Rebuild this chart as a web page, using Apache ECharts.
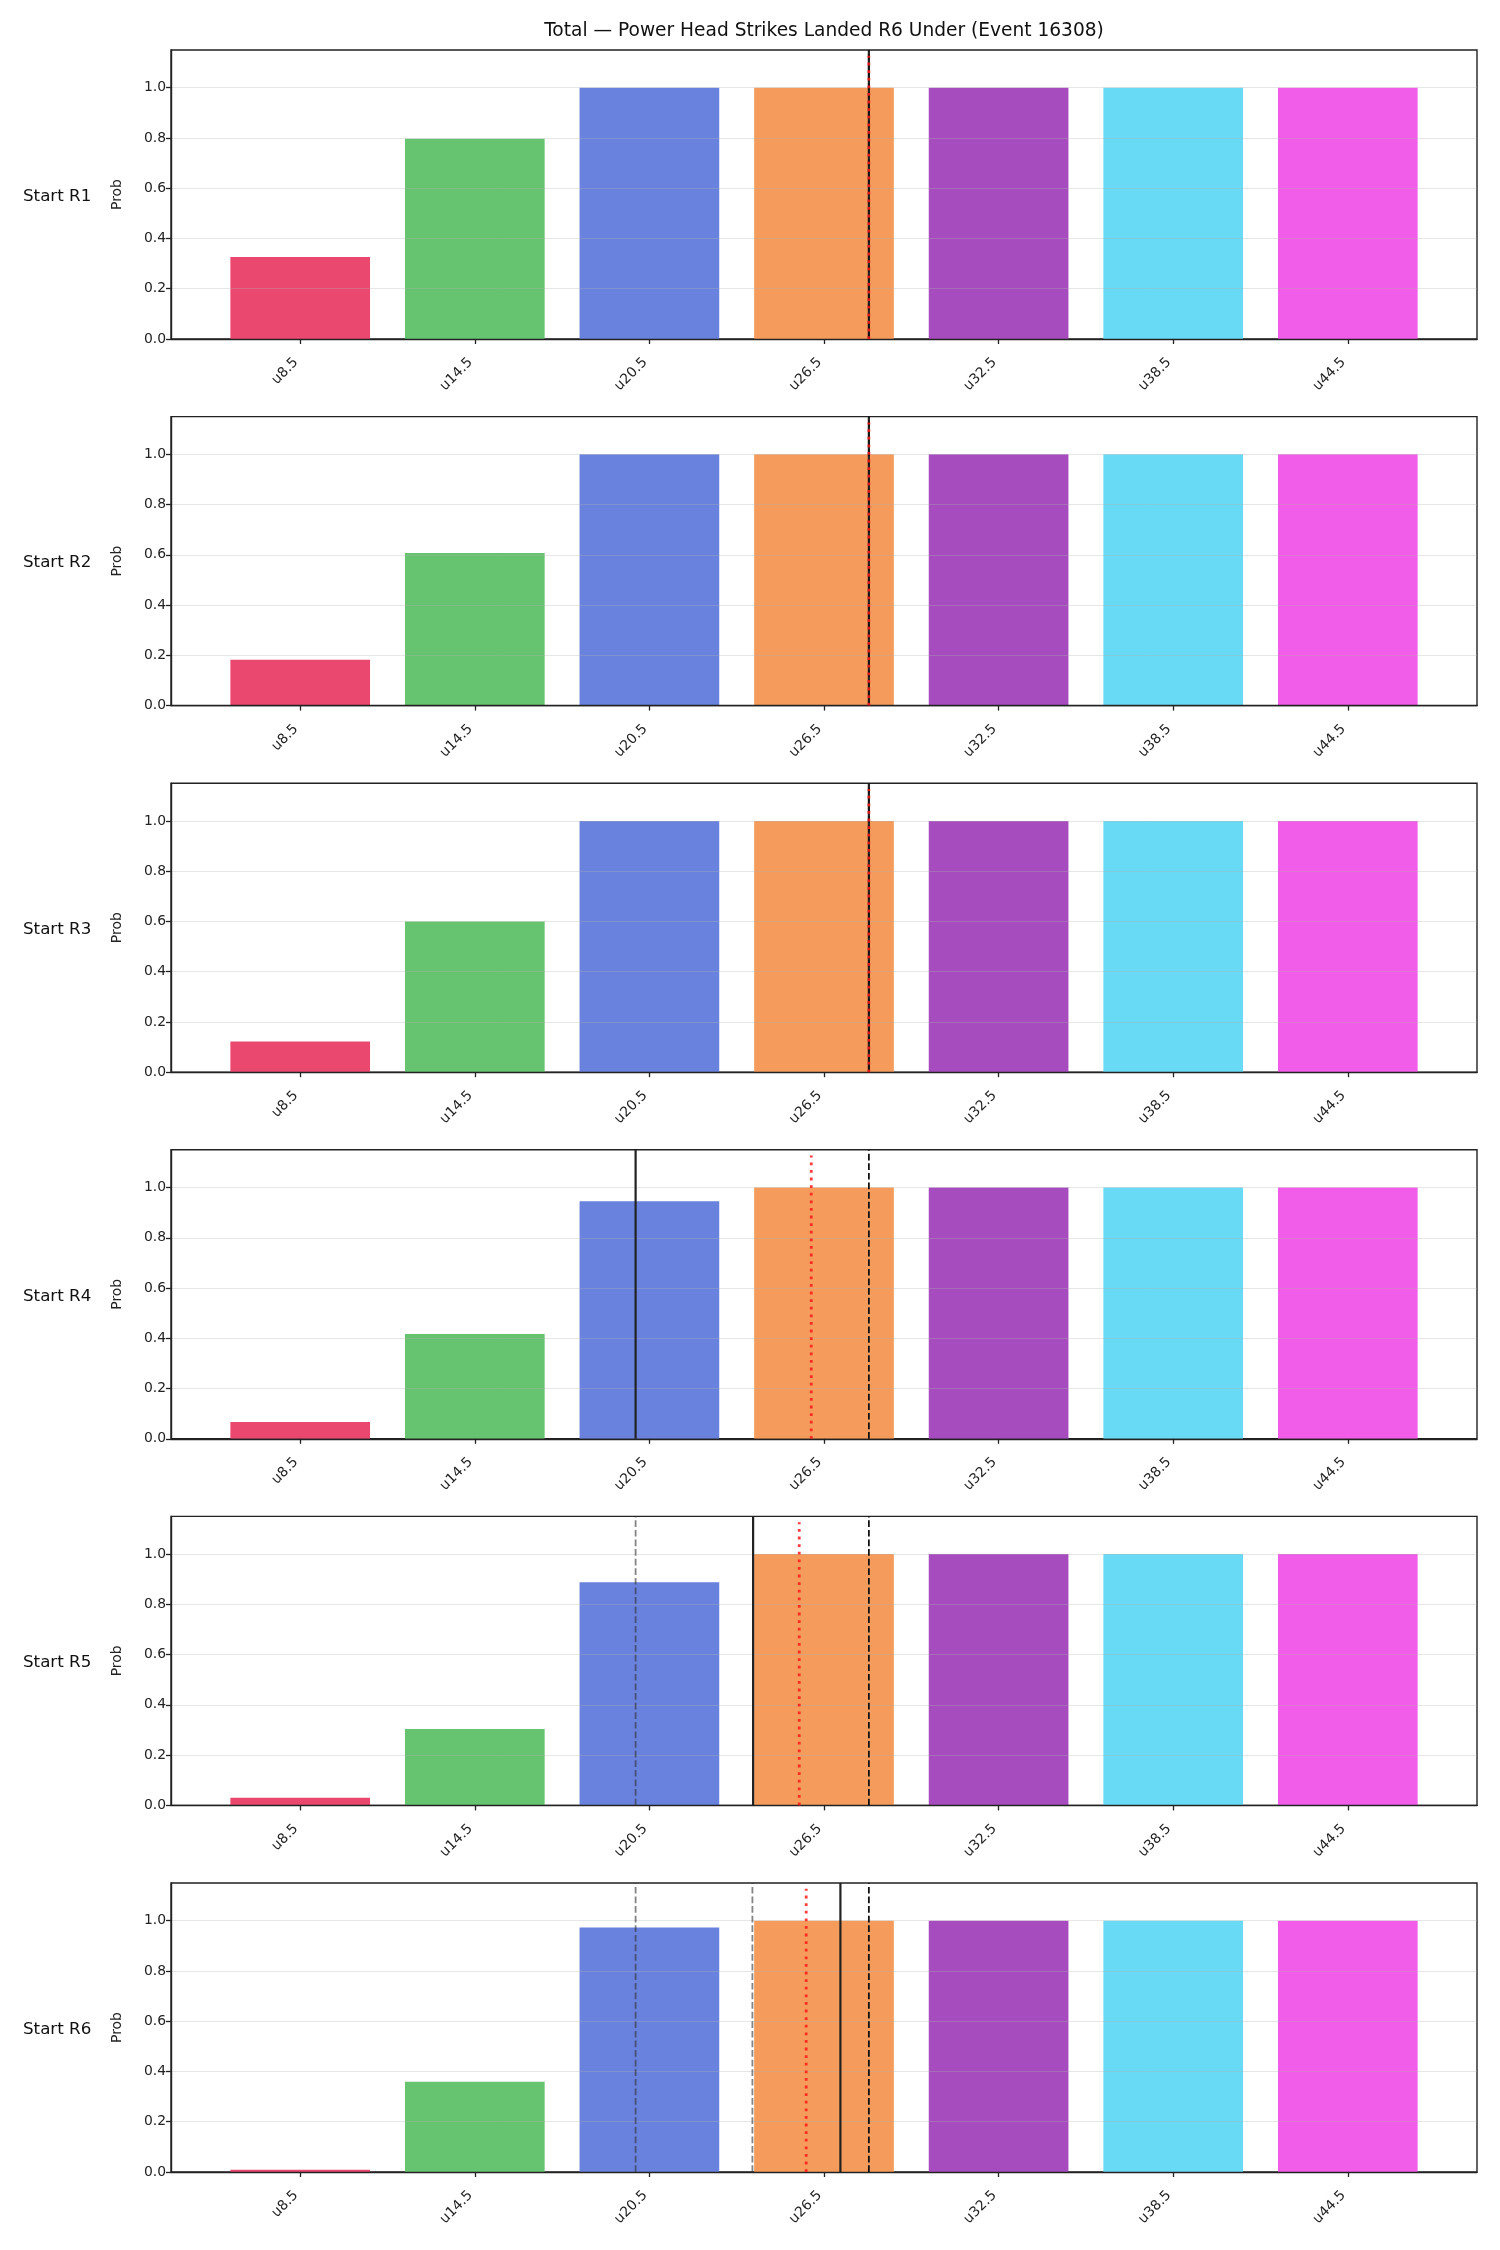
<!DOCTYPE html>
<html>
<head>
<meta charset="utf-8">
<script src="https://cdn.jsdelivr.net/npm/echarts@6/dist/echarts.min.js"></script>
<style>
  html, body { margin: 0; padding: 0; background: #fff; }
  #chart { width: 1500px; height: 2250px; }
</style>
</head>
<body>
<div id="chart"></div>
<script>
// chart data
const chartTitle = 'Total — Power Head Strikes Landed R6 Under (Event 16308)';
const categories = ['u8.5', 'u14.5', 'u20.5', 'u26.5', 'u32.5', 'u38.5', 'u44.5'];
const rowLabels = ['Start R1', 'Start R2', 'Start R3', 'Start R4', 'Start R5', 'Start R6'];
const yTicks = [0, 0.2, 0.4, 0.6, 0.8, 1.0];

const probR1 = [0.326, 0.797, 1.0, 1.0, 1.0, 1.0, 1.0];
const probR2 = [0.182, 0.607, 1.0, 1.0, 1.0, 1.0, 1.0];
const probR3 = [0.122, 0.600, 1.0, 1.0, 1.0, 1.0, 1.0];
const probR4 = [0.067, 0.417, 0.945, 1.0, 1.0, 1.0, 1.0];
const probR5 = [0.030, 0.304, 0.888, 1.0, 1.0, 1.0, 1.0];
const probR6 = [0.009, 0.359, 0.973, 1.0, 1.0, 1.0, 1.0];
const probRows = [probR1, probR2, probR3, probR4, probR5, probR6];

// vertical markers, in category-index units
const solidX = [3.257, 3.257, 3.257, 1.921, 2.594, 3.094];
const dashedX = [3.257, 3.257, 3.257, 3.257, 3.257, 3.257];
const dottedX = [3.257, 3.257, 3.257, 2.927, 2.858, 2.898];
const prevX = [[], [], [], [], [1.921], [1.921, 2.590]];

const barColors = ['#eb4870', '#66c36f', '#6982dd', '#f59b5b', '#a64cbe', '#68daf5', '#f15ce9'];

// layout
const FONT = '"DejaVu Sans", sans-serif';
const GRID_LEFT = 171;
const GRID_W = 1306;
const GRID_H = 289;
const GRID_TOP0 = 50;
const GRID_STEP = 366.6;
const X_MIN = -0.74, X_MAX = 6.74;
const Y_MAX = 1.15;
const BAR_W = 0.8;
const DASH = [6.7, 2.9];

const chart = echarts.init(document.getElementById('chart'));

const grids = [], xAxes = [], yAxes = [], series = [], graphics = [];

graphics.push({
  type: 'text',
  style: {
    text: chartTitle, x: GRID_LEFT + GRID_W / 2, y: 31,
    font: '18.6px ' + FONT, fill: '#111', align: 'center', verticalAlign: 'middle'
  }
});

probRows.forEach((row, i) => {
  const top = GRID_TOP0 + i * GRID_STEP;
  grids.push({
    left: GRID_LEFT, top: top, width: GRID_W, height: GRID_H,
    show: true, borderColor: '#222', borderWidth: 1.4, backgroundColor: '#fff',
    outerBoundsMode: 'none'
  });
  xAxes.push({
    type: 'value', gridIndex: i, min: X_MIN, max: X_MAX, z: 5,
    axisLine: { show: true, onZero: false, lineStyle: { color: '#222', width: 1.4 } },
    axisTick: { show: true, length: 5, lineStyle: { color: '#222', width: 1.3 }, customValues: categories.map((c, k) => k) },
    axisLabel: {
      customValues: categories.map((c, k) => k),
      formatter: v => categories[Math.round(v)],
      rotate: 45, margin: 17, padding: [0, 6, 0, 0],
      fontSize: 13.9, fontFamily: FONT, color: '#222'
    },
    splitLine: { show: false }
  });
  yAxes.push({
    type: 'value', gridIndex: i, min: 0, max: Y_MAX, z: 5,
    name: 'Prob', nameLocation: 'middle', nameGap: 47,
    nameTextStyle: { fontSize: 13.9, fontFamily: FONT, color: '#222' },
    axisLine: { show: true, onZero: false, lineStyle: { color: '#222', width: 1.4 } },
    axisTick: { show: true, length: 5, lineStyle: { color: '#222', width: 1.3 }, customValues: yTicks },
    axisLabel: {
      customValues: yTicks, formatter: v => v.toFixed(1),
      margin: 5, fontSize: 13.9, fontFamily: FONT, color: '#222'
    },
    splitLine: { show: true, lineStyle: { color: 'rgba(176,176,176,0.32)', width: 1 } }
  });

  graphics.push({
    type: 'text',
    style: {
      text: rowLabels[i], x: 23, y: top + GRID_H / 2 + 2,
      font: '16.7px ' + FONT, fill: '#111', align: 'left', verticalAlign: 'middle'
    }
  });

  series.push({
    type: 'custom', xAxisIndex: i, yAxisIndex: i, z: 2,
    data: row.map((v, k) => [k, v]),
    renderItem: (params, api) => {
      const k = api.value(0);
      const v = api.value(1);
      const p0 = api.coord([k - BAR_W / 2, v]);
      const p1 = api.coord([k + BAR_W / 2, 0]);
      return {
        type: 'rect',
        shape: { x: p0[0], y: p0[1], width: p1[0] - p0[0], height: p1[1] - p0[1] },
        style: { fill: barColors[k] }
      };
    }
  });

  const vline = (x, y1, style) => ({
    type: 'line', xAxisIndex: i, yAxisIndex: i, z: 6,
    data: [[x, 0], [x, y1]], symbol: 'none', silent: true,
    lineStyle: style
  });

  prevX[i].forEach(x => {
    series.push(vline(x, Y_MAX, { color: 'rgba(50,50,50,0.6)', width: 1.8, type: DASH }));
  });
  series.push(vline(solidX[i], Y_MAX, { color: '#222', width: 2.2 }));
  series.push(vline(dashedX[i], Y_MAX, { color: '#111', width: 1.8, type: DASH }));
  series.push(vline(dottedX[i], Y_MAX * 0.98, { color: 'rgba(255,25,25,0.85)', width: 2.8, type: [2.8, 4.8] }));
});

chart.setOption({
  animation: false,
  backgroundColor: '#fff',
  grid: grids,
  xAxis: xAxes,
  yAxis: yAxes,
  series: series,
  graphic: graphics
});
</script>
</body>
</html>
